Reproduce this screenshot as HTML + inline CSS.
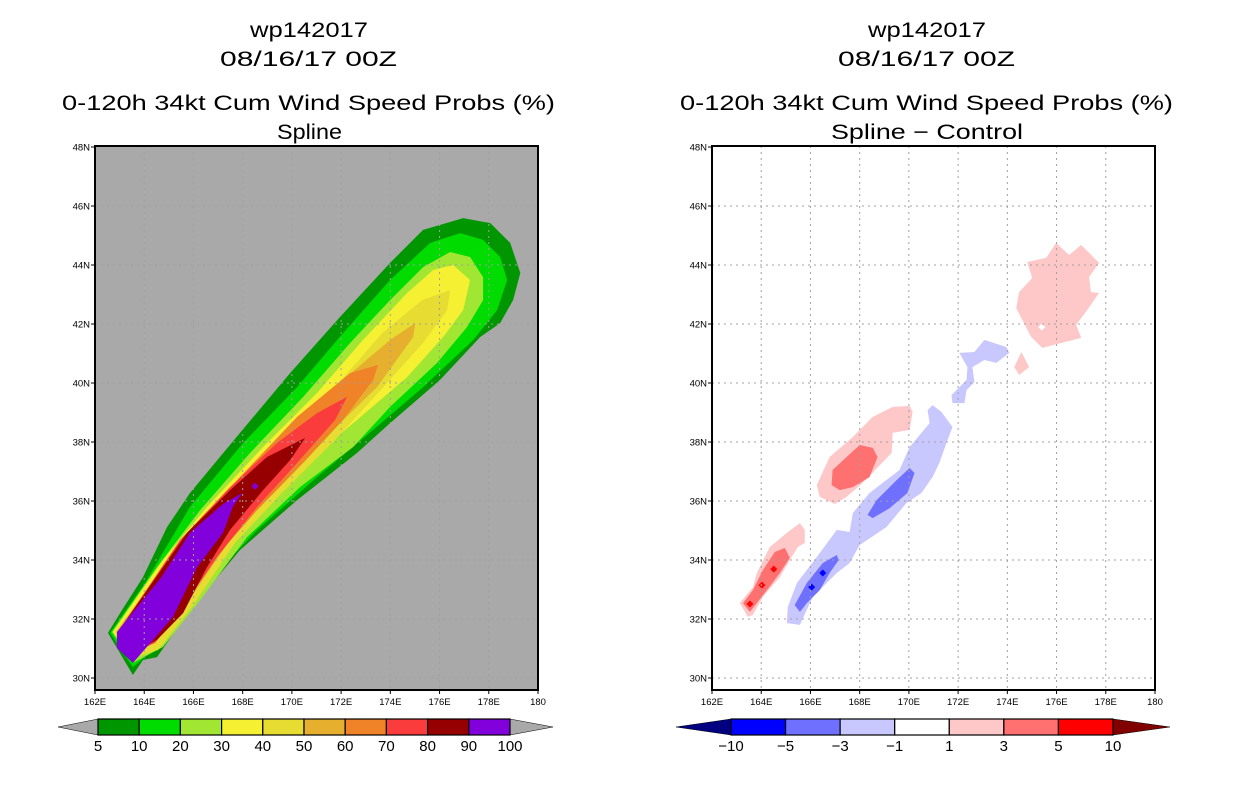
<!DOCTYPE html>
<html><head><meta charset="utf-8">
<style>
body{margin:0;background:#fff;width:1236px;height:800px;overflow:hidden}
svg{display:block}
text{font-family:"Liberation Sans",sans-serif;fill:#000}
.t{font-size:21px}
.tk{font-size:9.5px}
.cb{font-size:15px}
</style></head>
<body>
<svg id="s" width="1236" height="800">
<g>
<text class="t" x="250" y="37" textLength="118" lengthAdjust="spacingAndGlyphs">wp142017</text>
<text class="t" x="220" y="66" textLength="177" lengthAdjust="spacingAndGlyphs">08/16/17 00Z</text>
<text class="t" x="62" y="110" textLength="493" lengthAdjust="spacingAndGlyphs">0-120h 34kt Cum Wind Speed Probs (%)</text>
<text class="t" x="277" y="139" textLength="65" lengthAdjust="spacingAndGlyphs">Spline</text>
</g>
<g>
<text class="t" x="868" y="37" textLength="118" lengthAdjust="spacingAndGlyphs">wp142017</text>
<text class="t" x="838" y="66" textLength="177" lengthAdjust="spacingAndGlyphs">08/16/17 00Z</text>
<text class="t" x="680" y="110" textLength="493" lengthAdjust="spacingAndGlyphs">0-120h 34kt Cum Wind Speed Probs (%)</text>
<text class="t" x="831" y="139" textLength="192" lengthAdjust="spacingAndGlyphs">Spline − Control</text>
</g>
</svg>
<script>
const latTicks=[30,32,34,36,38,40,42,44,46,48];
const lonTicks=[162,164,166,168,170,172,174,176,178,180];
const probLevels=[5,10,20,30,40,50,60,70,80,90,100];
const probColors=['#009600','#00dc00','#a0e632','#f5f032','#e6dc32','#e6af2d','#f08228','#fa3c3c','#960000','#8200dc'];
const diffLevels=[-10,-5,-3,-1,1,3,5,10];
const diffColors=['#0000ff','#7070ff','#c8c8ff','#ffffff','#ffc8c8','#ff7070','#ff0000'];
// left contour polygons [lon,lat], level index into probColors
const probP0=[[163.54,30.10],[162.53,31.53],[163.10,32.31],[163.95,33.42],[164.93,35.12],[165.86,36.27],[167.89,38.31],[169.93,40.34],[171.96,42.24],[173.99,44.07],[175.33,45.19],[176.96,45.59],[178.06,45.42],[178.87,44.75],[179.28,43.73],[178.99,42.81],[178.46,42.03],[177.65,41.56],[176.02,40.10],[173.99,38.64],[172.65,37.63],[170.21,36.03],[167.89,34.34],[165.86,32.31],[164.52,30.71],[163.95,30.61]];
const probP1=[[163.54,30.37],[162.61,31.53],[164.03,33.22],[165.86,35.80],[168.02,37.97],[170.21,39.86],[172.08,41.69],[173.99,43.49],[175.62,44.75],[176.84,45.08],[177.77,44.85],[178.46,44.27],[178.75,43.49],[178.34,42.47],[177.37,41.46],[175.33,39.86],[173.30,38.41],[171.02,36.81],[168.59,35.02],[166.27,32.98],[164.52,31.05]];
const probP2=[[163.54,30.51],[162.69,31.56],[164.52,33.76],[166.27,35.69],[168.30,37.63],[170.46,39.53],[172.37,41.36],[173.99,42.81],[175.33,43.93],[176.43,44.44],[177.24,44.27],[177.77,43.59],[177.77,42.81],[177.12,41.90],[175.90,40.68],[173.99,39.19],[172.49,37.83],[170.33,36.47],[168.18,34.78],[166.27,32.64],[164.76,31.05]];
const probP3=[[176.55,44.00],[177.24,43.49],[176.96,42.47],[176.15,41.56],[174.68,40.20],[172.65,38.75],[170.21,37.05],[167.89,35.02],[166.15,32.98],[164.52,31.19],[163.54,30.61],[162.73,31.56],[164.76,34.00],[166.55,35.80],[168.83,37.83],[171.02,39.66],[172.89,41.46],[174.68,43.05],[175.74,43.83]];
const probP4=[[176.43,43.15],[176.31,42.47],[175.33,41.36],[173.71,39.86],[171.76,38.07],[169.60,36.27],[167.69,34.58],[165.94,32.41],[164.56,30.95],[163.54,30.68],[162.81,31.56],[165.25,34.24],[167.16,35.93],[169.60,38.07],[171.76,39.86],[173.67,41.69],[175.29,42.81]];
const probP5=[[175.01,42.03],[174.93,41.56],[173.46,39.86],[171.55,38.31],[169.40,36.47],[167.49,34.68],[165.74,32.54],[163.54,30.71],[162.89,31.56],[165.33,34.34],[167.49,36.37],[169.93,38.41],[172.08,40.10],[173.99,41.46]];
const probP6=[[173.50,40.61],[173.30,40.10],[172.08,38.75],[170.46,37.29],[168.59,35.69],[166.80,34.00],[165.46,32.31],[163.54,30.78],[162.89,31.56],[165.46,34.58],[167.89,36.81],[170.21,38.85],[172.37,40.34]];
const probP7=[[172.24,39.53],[171.76,38.75],[170.21,37.29],[168.59,35.80],[166.96,34.10],[165.58,32.41],[164.44,31.19],[163.54,30.85],[162.93,31.56],[165.46,34.68],[167.49,36.47],[169.40,37.97],[171.02,38.98]];
const probP8=[[170.54,38.14],[169.93,37.39],[168.83,36.37],[167.49,35.02],[166.55,33.76],[165.58,32.20],[164.52,31.29],[163.54,30.85],[162.93,31.56],[165.74,34.92],[167.49,36.37],[168.99,37.49]];
const probP9=[[167.98,36.27],[167.60,35.80],[167.20,34.92],[166.15,33.76],[165.17,32.07],[163.54,30.51],[162.89,31.02],[162.89,31.56],[164.70,33.42],[165.86,34.92],[167.20,35.90]];
const probPolys=[probP0,probP1,probP2,probP3,probP4,probP5,probP6,probP7,probP8,probP9];
const probSpots=[[168.5,36.5,9]];
// right difference polygons, level index into diffColors
const diffA=[[175.98,44.75],[176.51,44.34],[177.00,44.68],[177.73,44.07],[177.32,43.59],[177.40,43.08],[177.73,43.05],[177.24,42.47],[176.80,41.97],[177.00,41.53],[175.42,41.19],[174.97,41.56],[174.36,42.54],[174.48,43.08],[175.01,43.56],[174.81,44.10],[175.58,44.24]];
const diffB=[[174.57,41.05],[174.89,40.54],[174.48,40.27],[174.28,40.54]];
const diffC=[[172.05,41.02],[172.66,41.05],[173.07,41.46],[173.96,41.22],[174.08,41.02],[173.55,40.68],[173.07,40.78],[172.58,40.54],[172.66,40.03],[172.34,39.76],[172.26,39.32],[171.77,39.32],[171.73,39.59],[172.34,40.10],[172.38,40.54]];
const diffD=[[170.96,39.25],[171.32,39.02],[171.77,38.51],[171.53,37.97],[171.24,37.29],[170.96,36.81],[170.51,36.27],[169.90,35.93],[169.09,35.12],[168.49,34.78],[168.00,34.51],[167.59,33.90],[167.07,33.56],[166.09,32.75],[165.57,31.80],[165.04,31.86],[165.08,32.41],[165.45,33.22],[166.26,34.10],[167.07,35.02],[167.59,34.95],[167.72,35.59],[168.40,36.27],[169.62,37.05],[170.03,37.83],[170.84,38.64],[170.76,39.08]];
const diffE=[[170.03,37.12],[170.23,36.95],[169.94,36.27],[169.22,35.76],[168.53,35.42],[168.32,35.53],[168.69,36.03],[169.50,36.71]];
const diffF=[[167.07,34.17],[167.15,34.00],[166.78,33.56],[166.38,32.98],[165.85,32.54],[165.57,32.24],[165.36,32.47],[165.85,33.22],[166.50,33.90]];
const diffG=[[170.03,39.22],[170.15,39.02],[170.03,38.41],[169.34,38.31],[169.30,37.63],[168.12,36.61],[167.47,36.14],[166.99,35.90],[166.38,36.14],[166.26,36.54],[166.78,37.49],[167.72,38.17],[168.53,38.85],[169.34,39.19]];
const diffH=[[168.00,37.90],[168.53,37.80],[168.73,37.49],[168.40,36.81],[167.72,36.47],[167.19,36.37],[166.86,36.54],[166.90,37.05],[167.47,37.49]];
const diffI=[[165.57,35.25],[165.77,35.02],[165.77,34.58],[165.49,34.44],[165.16,34.00],[164.76,33.42],[164.07,32.75],[163.66,32.14],[163.46,32.07],[163.13,32.54],[163.66,33.08],[163.82,33.56],[164.35,34.44],[165.04,34.92]];
const diffJ=[[164.96,34.41],[165.16,34.07],[164.76,33.56],[164.23,32.98],[163.82,32.54],[163.54,32.24],[163.26,32.54],[163.66,32.98],[164.07,33.66],[164.55,34.27]];
const diffPolys=[[diffA,4],[diffB,4],[diffC,2],[diffD,2],[diffE,1],[diffF,1],[diffG,4],[diffH,5],[diffI,4],[diffJ,5]];
const diffSpots=[[166.50,33.56,0],[166.05,33.08,0],[164.51,33.69,6],[164.03,33.15,6],[163.54,32.51,6],[175.4,41.9,3]];

const NS='http://www.w3.org/2000/svg';
const svg=document.getElementById('s');
function mk(tag,attrs,parent){const e=document.createElementNS(NS,tag);for(const k in attrs)e.setAttribute(k,attrs[k]);(parent||svg).appendChild(e);return e;}
const Y0=690,Y1=146;
function yS(lat){return 678-(lat-30)*29.5;}
function panel(x0,x1,bg,name){
  const g=mk('g',{});
  
  
  const xS=lon=>x0+(lon-162)*(x1-x0)/18;
  const r=mk('rect',{x:x0,y:Y1,width:x1-x0,height:Y0-Y1,fill:bg},g);
  
  
  return {g,xS};
}
function drawGrid(p,x0,x1){
  for(const lon of lonTicks){const x=p.xS(lon);
    if(lon>162&&lon<180){const l=mk('line',{x1:x,x2:x,y1:Y1,y2:Y0,stroke:'#a0a0a0','stroke-width':1,'stroke-dasharray':'2,4'},p.g);
      
      }
    const t=mk('line',{x1:x,x2:x,y1:Y0,y2:Y0+4,stroke:'#000','stroke-width':1},p.g);
    
    
    const tx=mk('text',{x:x,y:Y0+15,'text-anchor':'middle',class:'tk'},p.g);tx.textContent=(lon===180?'180':lon+'E');
    
    
  }
  for(const lat of latTicks){const y=yS(lat);
    if(lat<48){const l=mk('line',{x1:x0,x2:x1,y1:y,y2:y,stroke:'#a0a0a0','stroke-width':1,'stroke-dasharray':'2,4'},p.g);
      
      }
    const t=mk('line',{x1:x0-4,x2:x0,y1:y,y2:y,stroke:'#000','stroke-width':1},p.g);
    
    
    const tx=mk('text',{x:x0-5,y:y+3.5,'text-anchor':'end',class:'tk'},p.g);tx.textContent=lat+'N';
    
    
  }
  const f=mk('rect',{x:x0,y:Y1,width:x1-x0,height:Y0-Y1,fill:'none',stroke:'#000','stroke-width':2},p.g);
  
  
}
function poly(p,pts,color,name){
  const e=mk('polygon',{points:pts.map(q=>p.xS(q[0]).toFixed(1)+','+yS(q[1]).toFixed(1)).join(' '),fill:color},p.g);
  
  
}
function spot(p,s,color,name){
  const x=p.xS(s[0]),y=yS(s[1]),d=3.5;
  const e=mk('polygon',{points:`${x},${y-d} ${x+d},${y} ${x},${y+d} ${x-d},${y}`,fill:color},p.g);
  
  
}
const L=panel(95,538,'#a9a9a9','left-probability-map');
probPolys.forEach((pl,i)=>poly(L,pl,probColors[i],'prob-contour-'+probLevels[i]));
probSpots.forEach(s=>spot(L,s,probColors[s[2]],'prob-spot'));
drawGrid(L,95,538);
const R=panel(712,1155,'#ffffff','right-difference-map');
diffPolys.forEach(d=>poly(R,d[0],diffColors[d[1]],'diff-contour-'+diffLevels[d[1]]));
diffSpots.forEach(s=>spot(R,s,diffColors[s[2]],'diff-spot'));
drawGrid(R,712,1155);
function colorbar(x0,x1,xl,xr,levels,colors,lt,rt,name){
  const g=mk('g',{});
  
  
  const y0=719,y1=735,ym=727,w=(x1-x0)/colors.length;
  const a=mk('polygon',{points:`${x0},${y0} ${xl},${ym} ${x0},${y1}`,fill:lt,stroke:'#000','stroke-width':0.5},g);
  
  
  const b=mk('polygon',{points:`${x1},${y0} ${xr},${ym} ${x1},${y1}`,fill:rt,stroke:'#000','stroke-width':0.5},g);
  
  
  colors.forEach((c,i)=>{
    const r=mk('rect',{x:x0+i*w,y:y0,width:w,height:y1-y0,fill:c,stroke:'#000','stroke-width':1.2},g);
    
    
  });
  levels.forEach((v,i)=>{
    const t=mk('text',{x:x0+i*w,y:751,'text-anchor':'middle',class:'cb'},g);t.textContent=(v<0?'−'+(-v):v);
    
    
  });
}
colorbar(98,510,58,553,probLevels,probColors,'#a9a9a9','#a9a9a9','left-colorbar');
colorbar(731,1113,676,1170,diffLevels,diffColors,'#000080','#800000','right-colorbar');
</script>
</body></html>
